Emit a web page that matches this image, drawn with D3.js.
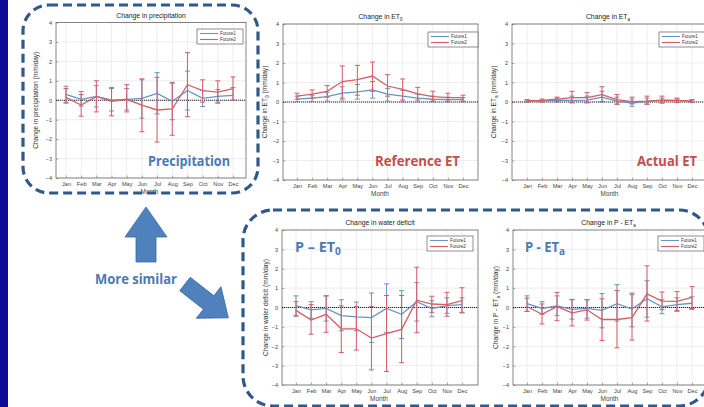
<!DOCTYPE html>
<html><head><meta charset="utf-8">
<script src="https://cdn.jsdelivr.net/npm/d3@7"></script>
<style>body{margin:0;background:#fff}svg{display:block}</style>
</head><body>
<script>
// ---------- DATA ----------
const months = ["Jan","Feb","Mar","Apr","May","Jun","Jul","Aug","Sep","Oct","Nov","Dec"];
const yTicks = [-4,-3,-2,-1,0,1,2,3,4];
const seriesNames = ["Future1","Future2"];

// Precipitation
const precipF1   = [0.3,0.05,0.2,0.0,0.05,0.1,0.35,-0.05,0.5,0.1,0.2,0.25];
const precipF1Lo = [-0.1,-0.3,-0.35,-0.55,-0.5,-0.92,-0.7,-1.0,-0.5,-0.32,-0.1,0.0];
const precipF1Hi = [0.72,0.45,0.75,0.6,0.6,1.05,1.42,0.92,1.5,0.5,0.55,0.65];
const precipF2   = [0.15,-0.25,0.2,-0.05,0.05,-0.25,-0.5,-0.45,0.8,0.5,0.42,0.6];
const precipF2Lo = [-0.15,-0.82,-0.6,-0.8,-0.6,-1.62,-2.15,-1.8,-0.85,-0.1,-0.15,0.0];
const precipF2Hi = [0.6,0.3,1.0,0.65,0.8,1.1,1.18,0.88,2.45,1.05,1.0,1.2];

// Reference ET (ET0)
const et0F1   = [0.15,0.2,0.28,0.45,0.52,0.62,0.4,0.3,0.2,0.14,0.12,0.12];
const et0F1Lo = [0.02,0.03,0.05,0.1,0.15,0.2,0.05,0.0,0.0,0.0,0.0,0.0];
const et0F1Hi = [0.3,0.35,0.5,0.78,0.9,1.05,0.7,0.6,0.4,0.3,0.25,0.22];
const et0F2   = [0.3,0.4,0.55,1.05,1.15,1.33,0.82,0.65,0.42,0.28,0.22,0.22];
const et0F2Lo = [0.15,0.2,0.25,0.2,0.35,0.55,0.3,0.1,0.1,0.05,0.05,0.05];
const et0F2Hi = [0.45,0.62,0.85,1.85,1.88,2.05,1.4,1.18,0.75,0.55,0.45,0.35];

// Actual ET (ETa)
const etaF1   = [0.05,0.05,0.1,0.08,0.1,0.25,0.05,-0.05,0.03,0.08,0.07,0.04];
const etaF1Lo = [0.0,0.0,0.0,-0.05,-0.05,0.0,-0.1,-0.22,-0.1,-0.05,-0.03,-0.02];
const etaF1Hi = [0.1,0.1,0.2,0.3,0.3,0.55,0.25,0.15,0.2,0.2,0.15,0.1];
const etaF2   = [0.07,0.08,0.15,0.22,0.22,0.38,0.12,0.02,0.05,0.1,0.08,0.05];
const etaF2Lo = [0.0,0.0,0.02,-0.02,-0.02,0.02,-0.12,-0.1,-0.12,-0.05,-0.02,-0.02];
const etaF2Hi = [0.12,0.15,0.25,0.55,0.48,0.78,0.38,0.25,0.3,0.3,0.2,0.12];

// Water deficit (P - ET0)
const wdF1   = [0.1,-0.12,-0.05,-0.42,-0.48,-0.52,-0.05,-0.35,0.3,-0.05,0.1,0.15];
const wdF1Lo = [-0.4,-0.55,-0.7,-1.2,-1.2,-1.8,-1.3,-1.6,-0.7,-0.48,-0.3,-0.25];
const wdF1Hi = [0.6,0.3,0.6,0.4,0.28,0.75,1.22,0.87,1.28,0.35,0.5,0.5];
const wdF2   = [-0.15,-0.65,-0.35,-1.1,-1.1,-1.58,-1.35,-1.13,0.38,0.18,0.15,0.35];
const wdF2Lo = [-0.45,-1.38,-1.28,-2.32,-2.2,-3.22,-3.3,-2.85,-1.3,-0.25,-0.45,-0.28];
const wdF2Hi = [0.3,0.15,0.6,0.08,0.05,0.05,0.62,0.62,2.08,0.58,0.78,1.02];

// P - ETa
const pmF1   = [0.2,-0.05,0.08,-0.1,-0.05,-0.15,0.2,-0.08,0.45,0.03,0.15,0.22];
const pmF1Lo = [-0.2,-0.35,-0.42,-0.6,-0.55,-1.05,-0.7,-1.0,-0.5,-0.32,-0.2,-0.1];
const pmF1Hi = [0.6,0.3,0.6,0.42,0.4,0.72,1.18,0.75,1.38,0.4,0.5,0.55];
const pmF2   = [0.05,-0.35,0.05,-0.28,-0.12,-0.62,-0.62,-0.52,0.7,0.33,0.32,0.52];
const pmF2Lo = [-0.2,-0.85,-0.68,-0.95,-0.65,-1.7,-2.08,-1.68,-0.7,-0.1,-0.15,-0.05];
const pmF2Hi = [0.48,0.18,0.78,0.4,0.4,0.45,0.88,0.68,2.15,0.8,0.82,1.08];

// ---------- LAYOUT ----------
const W = 704, H = 407;
const C1 = "#6595c4", C2 = "#d85c66";
const svg = d3.select("body").append("svg").attr("width", W).attr("height", H);
svg.append("rect").attr("width", W).attr("height", H).attr("fill", "#fff");

const panels = [
  {title:["Change in precipitation",""], ylab:["Change in precipitation (mm/day)",""],
   L:56,R:246,T:22.5,B:178, jan:66, dec:233, ylx:38, leg:[197,29,46],
   s:[[precipF1,precipF1Lo,precipF1Hi],[precipF2,precipF2Lo,precipF2Hi]], monthOnBorder:true},
  {title:["Change in ET","0"], ylab:["Change in ET","0"," (mm/day)"],
   L:283,R:478,T:24,B:180, jan:297, dec:463, ylx:267, leg:[428,32,50],
   s:[[et0F1,et0F1Lo,et0F1Hi],[et0F2,et0F2Lo,et0F2Hi]]},
  {title:["Change in ET","a"], ylab:["Change in ET","a"," (mm/day)"],
   L:512,R:708,T:24,B:180, jan:527, dec:692, ylx:496, leg:[659,32,50],
   s:[[etaF1,etaF1Lo,etaF1Hi],[etaF2,etaF2Lo,etaF2Hi]]},
  {title:["Change in water deficit",""], ylab:["Change in water deficit (mm/day)",""],
   L:282,R:478,T:230,B:385, jan:296, dec:462, ylx:268, leg:[427,236,46],
   s:[[wdF1,wdF1Lo,wdF1Hi],[wdF2,wdF2Lo,wdF2Hi]]},
  {title:["Change in P - ET","a"], ylab:["Change in P - ET","a"," (mm/day)"],
   L:513,R:708,T:230,B:385, jan:527, dec:692, ylx:498, leg:[658,236,46],
   s:[[pmF1,pmF1Lo,pmF1Hi],[pmF2,pmF2Lo,pmF2Hi]]}
];

const FONT = "'Liberation Sans', Arial, sans-serif";

panels.forEach((p, pi) => {
  const g = svg.append("g");
  const x = d3.scaleLinear().domain([1, 12]).range([p.jan, p.dec]);
  const y = d3.scaleLinear().domain([-4, 4]).range([p.B, p.T]);
  const clipId = "clip" + pi;
  svg.append("clipPath").attr("id", clipId).append("rect")
    .attr("x", p.L).attr("y", p.T).attr("width", p.R - p.L).attr("height", p.B - p.T);

  // grid
  const grid = g.append("g").attr("stroke", "#e3e3e3").attr("stroke-width", 0.6);
  months.forEach((m, i) => grid.append("line").attr("x1", x(i + 1)).attr("x2", x(i + 1)).attr("y1", p.T).attr("y2", p.B));
  yTicks.forEach(t => grid.append("line").attr("x1", p.L).attr("x2", p.R).attr("y1", y(t)).attr("y2", y(t)));

  // axes
  const ya = g.append("g").attr("transform", `translate(${p.L},0)`)
    .call(d3.axisLeft(y).tickValues(yTicks).tickSize(-2.5).tickPadding(4).tickFormat(d3.format("d")));
  const xa = g.append("g").attr("transform", `translate(0,${p.B})`)
    .call(d3.axisBottom(x).tickValues(d3.range(1, 13)).tickSize(-2.5).tickPadding(4).tickFormat(d => months[d - 1]));
  [ya, xa].forEach(a => {
    a.select(".domain").remove();
    a.selectAll("line").attr("stroke", "#666").attr("stroke-width", 0.5);
    a.selectAll("text").attr("font-family", FONT).attr("font-size", 5.6).attr("fill", "#444");
  });

  // frame
  g.append("rect").attr("x", p.L).attr("y", p.T).attr("width", p.R - p.L).attr("height", p.B - p.T)
    .attr("fill", "none").attr("stroke", "#555").attr("stroke-width", 0.7);

  // zero line
  g.append("line").attr("x1", p.L).attr("x2", p.R).attr("y1", y(0)).attr("y2", y(0))
    .attr("stroke", "#222").attr("stroke-width", 1).attr("stroke-dasharray", "1.2,0.8");

  // series
  const plot = g.append("g").attr("clip-path", `url(#${clipId})`);
  [C1, C2].forEach((col, si) => {
    const [v, lo, hi] = p.s[si];
    const sg = plot.append("g").attr("stroke", col).attr("fill", "none").attr("stroke-width", 1);
    v.forEach((d, i) => {
      const cx = x(i + 1);
      sg.append("line").attr("x1", cx).attr("x2", cx).attr("y1", y(lo[i])).attr("y2", y(hi[i]));
      sg.append("line").attr("x1", cx - 2.5).attr("x2", cx + 2.5).attr("y1", y(lo[i])).attr("y2", y(lo[i]));
      sg.append("line").attr("x1", cx - 2.5).attr("x2", cx + 2.5).attr("y1", y(hi[i])).attr("y2", y(hi[i]));
    });
    sg.append("path").attr("stroke-width", 1.3)
      .attr("d", d3.line().x((d, i) => x(i + 1)).y(d => y(d))(v));
  });

  // title
  const tt = g.append("text").attr("x", (p.L + p.R) / 2 + (pi === 2 || pi === 4 ? -2 : 0)).attr("y", p.T - 5)
    .attr("text-anchor", "middle").attr("font-family", FONT).attr("font-size", 6.8).attr("fill", "#222");
  tt.append("tspan").text(p.title[0]);
  if (p.title[1]) tt.append("tspan").attr("dy", 2).attr("font-size", 4.5).text(p.title[1]);

  // y label
  const yl = g.append("text").attr("transform", `translate(${p.ylx},${(p.T + p.B) / 2}) rotate(-90)`)
    .attr("text-anchor", "middle").attr("font-family", FONT).attr("font-size", 6.6).attr("fill", "#333");
  yl.append("tspan").text(p.ylab[0]);
  if (p.ylab[1]) {
    yl.append("tspan").attr("dy", 2).attr("font-size", 4.8).text(p.ylab[1]);
    yl.append("tspan").attr("dy", -2).text(p.ylab[2]);
  }

  // x label
  g.append("text").attr("x", (p.jan + p.dec) / 2).attr("y", p.B + 16).attr("text-anchor", "middle")
    .attr("font-family", FONT).attr("font-size", 6.4).attr("fill", "#444").text("Month");

  // legend
  const [lx, ly, lw] = p.leg;
  const lg = g.append("g");
  lg.append("rect").attr("x", lx).attr("y", ly).attr("width", lw).attr("height", 15)
    .attr("fill", "#fff").attr("stroke", "#444").attr("stroke-width", 0.6);
  seriesNames.forEach((n, i) => {
    const yy = ly + 4.5 + i * 6;
    lg.append("line").attr("x1", lx + 3).attr("x2", lx + 21).attr("y1", yy).attr("y2", yy)
      .attr("stroke", [C1, C2][i]).attr("stroke-width", 1.1);
    lg.append("text").attr("x", lx + 23).attr("y", yy + 1.6).attr("font-family", FONT)
      .attr("font-size", 4.6).attr("fill", "#333").text(n);
  });
});

// left navy strip
svg.append("rect").attr("x", 0).attr("y", 0).attr("width", 8).attr("height", H).attr("fill", "#0b0b96");

// dashed boxes
const DASH = "#30598a";
svg.append("rect").attr("x", 23).attr("y", 5).attr("width", 235).attr("height", 188).attr("rx", 26)
  .attr("fill", "none").attr("stroke", DASH).attr("stroke-width", 3.2).attr("stroke-dasharray", "9,5");
svg.append("rect").attr("x", 243).attr("y", 210).attr("width", 466).attr("height", 196).attr("rx", 30)
  .attr("fill", "none").attr("stroke", DASH).attr("stroke-width", 3.2).attr("stroke-dasharray", "9,5");

// big labels
const BIG = "'Open Sans', 'Noto Sans', sans-serif";
const blue = "#4a7ab5", red = "#c0504d";
function big(x0, y0, txt, col, len, sub, size) {
  const t = svg.append("text").attr("x", x0).attr("y", y0).attr("font-family", BIG)
    .attr("font-weight", "bold").attr("font-size", size || 15).attr("fill", col);
  t.append("tspan").text(txt).attr("textLength", len).attr("lengthAdjust", "spacingAndGlyphs");
  if (sub) t.append("tspan").attr("dy", 3).attr("font-size", 10).text(sub);
  return t;
}
big(148, 166, "Precipitation", blue, 82);
big(375, 166, "Reference ET", red, 85);
big(637, 166, "Actual ET", red, 60);
big(295, 252, "P \u2013 ET", blue, 40, "0", 14);
big(525, 252, "P - ET", blue, 34, "a", 14);
big(95, 284, "More similar", blue, 82, null, 14);

// arrows
const AF = "#4f81bd", AS = "#3b6a9e";
const upArrow = [[0,0],[21,30],[10,30],[10,55],[-10,55],[-10,30],[-21,30]];
svg.append("path").attr("d", d3.line()(upArrow) + "Z").attr("transform", "translate(146,207)")
  .attr("fill", AF).attr("stroke", AS).attr("stroke-width", 0.8);
const diagArrow = [[0,-8.5],[30,-8.5],[30,-20],[55,0],[30,20],[30,8.5],[0,8.5]];
svg.append("path").attr("d", d3.line()(diagArrow) + "Z").attr("transform", "translate(185,284) rotate(38)")
  .attr("fill", AF).attr("stroke", AS).attr("stroke-width", 0.8);
</script>
</body></html>
